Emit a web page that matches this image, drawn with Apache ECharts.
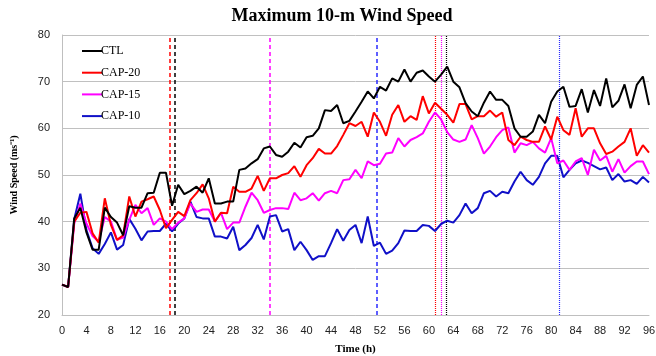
<!DOCTYPE html>
<html>
<head>
<meta charset="utf-8">
<script src="https://cdn.jsdelivr.net/npm/echarts@6/dist/echarts.min.js"></script>
<style>html,body{margin:0;padding:0;background:#fff}#c{width:656px;height:356px}</style>
</head>
<body>
<div id="c"></div>
<script>
// Hours 0..96 (one value per hour)
var seriesNames = ['CTL', 'CAP-20', 'CAP-15', 'CAP-10'];
var seriesColors = ['#000000', '#FF0000', '#FF00FF', '#1010C8'];
var markColors = ['#000000', '#FF0000', '#FF00FF', '#2a2aff'];
var xTicks = [0,4,8,12,16,20,24,28,32,36,40,44,48,52,56,60,64,68,72,76,80,84,88,92,96];

var ctl = [26.5,26,40.7,43,37.7,34,34,43,41,39.8,37.1,43.3,43,43,46.1,46.2,50.5,50.5,43.4,47.9,45.9,46.6,47.5,46.2,49.3,43.9,43.9,44.3,44.3,51.1,51.4,52.5,53.4,55.7,56.1,54.3,53.9,55,56.9,55.9,58.1,58.4,60,63.9,63.7,65,61.1,61.6,63.6,65.7,67.9,66.4,68.9,68.1,70.7,70,72.6,70,71.9,72.4,71.1,70,71.5,73.2,70,68.8,65.4,63.6,62.6,65.5,67.9,66.1,66.1,64.8,60,58.2,58.2,59.3,62.9,61.1,65.7,67.9,68.9,64.6,64.8,68.4,63.4,68.2,64.8,70.7,64.5,65.9,69.4,64.3,69.3,71.1,65];
var cap20 = [26.5,26,40,41.9,42.1,37.5,35.5,45,39.3,36.1,37.1,45.4,41.1,44.3,44.8,45.4,42.5,38.6,40.4,42.1,41.2,44.6,46.1,48,45,40,41.9,41.8,47.5,46.4,46.4,47.1,49.8,46.6,49.3,49.3,50,50.4,51.9,49.6,52.1,53.6,55.6,54.6,54.6,56.2,58.6,61.1,60.5,61.4,58.2,63.4,61.4,58.4,62.9,65,61.4,62.6,61.8,66.9,63.2,65.5,64.2,62.9,61.2,65.2,65.2,61.9,62.6,62.6,63.8,62.5,63.4,57.5,56.4,58.2,57.5,57.1,57.1,60.4,57.6,62.5,59.6,58.6,64.3,58.2,60,60,56.8,54.5,55,56.1,57.1,60,54.1,56.4,54.8];
var cap15 = [26.5,26,39.6,43.9,39.6,36.9,35.7,41,40,36.1,36.6,40.4,43.6,41.8,42.9,39.3,40.7,40,38.4,39.8,40.7,43.9,42.1,42.6,42.6,40,41.9,38.4,39.8,39.8,43.2,46.2,44.6,41.9,42.5,42.9,42.9,42.7,46.2,44.6,45,46.1,44.5,46.1,46.6,46.1,48.9,49.1,51.1,49.3,52.9,52.1,52.4,54.6,54.8,57.9,56.1,57.5,58.1,58.9,61.4,63.4,61.9,59.2,57.6,57.1,57.6,60.7,57.9,54.6,56.1,58.1,59.6,60.2,54.8,56.8,56.4,57.1,55.7,54.8,57.9,52.5,53.1,51.1,52.9,53.6,50,55.4,53.1,54.1,50.7,53.4,50.5,51.9,52.9,52.9,50.2];
var cap10 = [26.5,26,40.5,46,38.2,34.3,33.1,35.2,37.7,34,35,40.6,38.5,36,37.9,38,38,39.6,37.9,39.6,40.7,44.3,41,40.7,40.7,36.8,36.8,36.4,38.9,33.9,35,36.5,39.3,36.2,41.1,41.4,37.9,38.4,33.9,35.7,33.9,31.8,32.6,32.6,35.4,38.4,35.9,38.2,39.3,35.4,41.1,34.8,35.5,33.1,33.8,35.4,38.1,38,38,39.3,39.1,38,39.5,40.2,39.8,41.4,43.9,41.8,42.9,46.1,46.6,45.4,46.4,46.1,48.6,50.7,48.9,47.9,49.6,52.5,54.1,54.1,49.5,51.1,52.5,53.1,52.6,51.9,51.2,51.6,48.9,50.2,48.6,48.9,48.1,49.6,48.4];

// Vertical reference times (h): dashed and dotted per series
var dashedTimes = [18.5, 17.7, 33.9, 51.4];
var dottedTimes = [62.9, 61.05, 62.0, 81.3];

var allData = [ctl, cap20, cap15, cap10];

function pairs(arr) { return arr.map(function (v, i) { return [i, v]; }); }

var series = allData.map(function (arr, k) {
  return {
    name: seriesNames[k],
    type: 'line',
    data: pairs(arr),
    showSymbol: false,
    symbol: 'none',
    lineStyle: { color: seriesColors[k], width: 2 },
    itemStyle: { color: seriesColors[k] },
    z: 10 - k,
    markLine: {
      silent: true,
      symbol: 'none',
      label: { show: false },
      animation: false,
      data: [
        { xAxis: dashedTimes[k], lineStyle: { color: markColors[k], type: [4, 3], width: 1.5, opacity: 1 } },
        { xAxis: dottedTimes[k], lineStyle: { color: markColors[k], type: [1, 1], width: 1.2, opacity: 1 } }
      ]
    }
  };
});

var chart = echarts.init(document.getElementById('c'));
chart.setOption({
  animation: false,
  backgroundColor: '#ffffff',
  title: {
    text: 'Maximum 10-m Wind Speed',
    left: 337, top: 2, textAlign: 'center',
    textStyle: { fontFamily: 'Liberation Serif', fontWeight: 'bold', fontSize: 18, color: '#000' }
  },
  legend: {
    orient: 'vertical',
    left: 77, top: 39,
    icon: 'rect',
    itemWidth: 20, itemHeight: 2,
    itemGap: 7.7,
    data: seriesNames,
    textStyle: { fontFamily: 'Liberation Serif', fontSize: 12, color: '#000', lineHeight: 14, padding: [0, 0, 0, -6] }
  },
  grid: { left: 62, right: 7, top: 35, bottom: 41, outerBoundsMode: 'none', containLabel: false },
  xAxis: {
    type: 'value', min: 0, max: 96, interval: 4,
    name: 'Time (h)', nameLocation: 'middle', nameGap: 29,
    nameTextStyle: { fontFamily: 'Liberation Serif', fontWeight: 'bold', fontSize: 11, color: '#000' },
    axisLine: { show: true, lineStyle: { color: '#bfbfbf', width: 1 } },
    axisTick: { show: false },
    splitLine: { show: false },
    axisLabel: { margin: 10, fontFamily: 'Liberation Sans', fontSize: 11, color: '#222',
      customValues: xTicks }
  },
  yAxis: {
    type: 'value', min: 20, max: 80, interval: 10,
    name: 'Wind Speed (ms⁻¹)', nameLocation: 'middle', nameGap: 43,
    nameTextStyle: { fontFamily: 'Liberation Serif', fontWeight: 'bold', fontSize: 10, color: '#000' },
    axisLine: { show: true, lineStyle: { color: '#bfbfbf', width: 1 } },
    axisTick: { show: false },
    splitLine: { show: true, lineStyle: { color: '#c0c0c0', width: 1 } },
    axisLabel: { margin: 12, fontFamily: 'Liberation Sans', fontSize: 11, color: '#222' }
  },
  series: series
});
</script>
</body>
</html>
